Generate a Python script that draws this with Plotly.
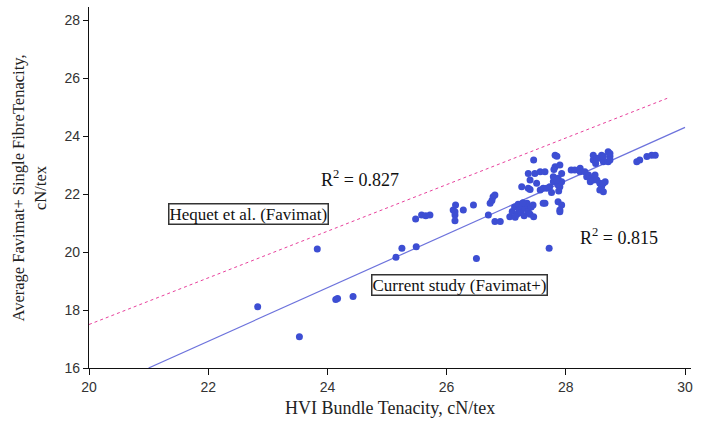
import plotly.graph_objects as go

# HVI bundle tenacity (x) and average Favimat+ single fibre tenacity (y), cN/tex
hvi = [22.83, 23.53, 23.83, 24.14, 24.17, 24.43, 25.15, 25.25, 25.49, 26.50, 27.72,
       25.48, 25.58, 25.65, 25.72, 26.11, 26.14, 26.14, 26.15, 26.14, 26.28, 26.45,
       26.70, 26.73, 26.76, 26.78, 26.81, 26.81, 26.90, 27.06,
       27.10, 27.14, 27.18, 27.20, 27.22, 27.25, 27.27, 27.30, 27.32, 27.35, 27.37, 27.40,
       27.42, 27.45, 27.46, 27.28, 27.15,
       27.62, 27.65, 27.87, 27.93, 27.90, 27.90,
       27.26, 27.37, 27.40, 27.40, 27.37, 27.48, 27.57, 27.46, 27.51, 27.57, 27.62, 27.68,
       27.65, 27.73, 27.79, 27.79, 27.82, 27.82, 27.85, 27.87, 27.87, 27.90, 27.90, 27.93,
       27.93, 27.85, 27.76, 27.88, 27.80,
       28.09, 28.15, 28.24, 28.24, 28.32, 28.35, 28.38, 28.43, 28.41, 28.46, 28.49, 28.52,
       28.57, 28.60, 28.66, 28.57, 28.63, 28.63,
       28.46, 28.46, 28.52, 28.55, 28.60, 28.63, 28.63, 28.71, 28.74, 28.71, 28.74, 28.74, 28.50,
       29.19, 29.24, 29.36, 29.44, 29.50]
favimat = [18.11, 17.08, 20.10, 18.36, 18.40, 18.47, 19.82, 20.13, 20.18, 19.78, 20.13,
           21.14, 21.28, 21.25, 21.28, 21.45, 21.28, 21.08, 21.62, 21.39, 21.45, 21.62,
           21.28, 21.68, 21.78, 21.91, 21.97, 21.05, 21.05, 21.22,
           21.40, 21.55, 21.30, 21.65, 21.45, 21.35, 21.58, 21.25, 21.50, 21.68, 21.40, 21.30,
           21.55, 21.62, 21.22, 21.70, 21.20,
           21.68, 21.68, 21.73, 21.62, 21.39, 21.45,
           22.25, 22.20, 22.16, 22.48, 22.71, 22.71, 22.77, 23.17, 22.37, 22.14, 22.20, 22.20,
           22.77, 22.25, 22.42, 22.60, 22.94, 23.34, 23.30, 22.54, 22.31, 23.00, 22.25, 22.71,
           22.42, 22.48, 22.05, 22.10, 22.85,
           22.83, 22.83, 22.89, 22.77, 22.77, 22.60, 22.66, 22.54, 22.42, 22.48, 22.66, 22.48,
           22.37, 22.25, 22.42, 22.14, 22.08, 22.37,
           23.17, 23.34, 23.23, 23.23, 23.34, 23.11, 23.29, 23.46, 23.29, 23.11, 23.40, 23.17, 23.05,
           23.11, 23.17, 23.29, 23.34, 23.34]

# Fit lines (end points)
current_fit_x = [21.0, 30.0]
current_fit_y = [16.0, 24.3]
hequet_fit_x = [20.0, 29.7]
hequet_fit_y = [17.5, 25.3]

x_ticks = [20, 22, 24, 26, 28, 30]
y_ticks = [16, 18, 20, 22, 24, 26, 28]

serif = "Liberation Serif, Times New Roman, serif"
sans = "Liberation Sans, Arial, sans-serif"

fig = go.Figure()
fig.add_trace(go.Scatter(x=hequet_fit_x, y=hequet_fit_y, mode="lines",
                         line=dict(color="#e8409c", width=1, dash="3px,3px"),
                         hoverinfo="skip"))
fig.add_trace(go.Scatter(x=current_fit_x, y=current_fit_y, mode="lines",
                         line=dict(color="#6d73dc", width=1.2), hoverinfo="skip"))
fig.add_trace(go.Scatter(x=hvi, y=favimat, mode="markers",
                         marker=dict(color="#3d4ed3", size=7, line=dict(width=0))))

ann = dict(showarrow=False, font=dict(family=serif, size=18, color="#111"))
fig.add_annotation(x=24.55, y=22.55, text="R<sup>2</sup> = 0.827", **ann)
fig.add_annotation(x=28.89, y=20.52, text="R<sup>2</sup> = 0.815", **ann)
box = dict(showarrow=False, font=dict(family=serif, size=17, color="#111"),
           bordercolor="#333", borderwidth=1.5, borderpad=0, bgcolor="white")
fig.add_annotation(x=22.68, y=21.31, text="Hequet et al. (Favimat)", **box)
fig.add_annotation(x=26.21, y=18.86, text="Current study (Favimat+)", **box)

fig.add_annotation(xref="paper", yref="paper", x=-0.0997, y=0.5, textangle=-90,
                   text="Average Favimat+ Single FibreTenacity,<br>cN/tex",
                   showarrow=False, xanchor="center", yanchor="middle",
                   font=dict(family=serif, size=16.5, color="#222"))
fig.add_annotation(xref="paper", yref="paper", x=0.5, y=-0.111,
                   text="HVI Bundle Tenacity, cN/tex", showarrow=False,
                   xanchor="center", yanchor="middle",
                   font=dict(family=serif, size=18, color="#222"))

fig.update_xaxes(range=[20, 30.1], tickvals=x_ticks, showline=True, linecolor="#111",
                 linewidth=1.2, ticks="outside", ticklen=6, tickcolor="#111",
                 showgrid=False, zeroline=False,
                 tickfont=dict(family=sans, size=14, color="#333"))
fig.update_yaxes(range=[16, 28.45], tickvals=y_ticks, showline=True, linecolor="#111",
                 linewidth=1.2, ticks="outside", ticklen=5, tickcolor="#111",
                 showgrid=False, zeroline=False,
                 tickfont=dict(family=sans, size=14, color="#333"))

fig.update_layout(width=701, height=434, margin=dict(l=89, r=10, t=7, b=66),
                  plot_bgcolor="white", paper_bgcolor="white", showlegend=False)

fig.write_html("out.html")
